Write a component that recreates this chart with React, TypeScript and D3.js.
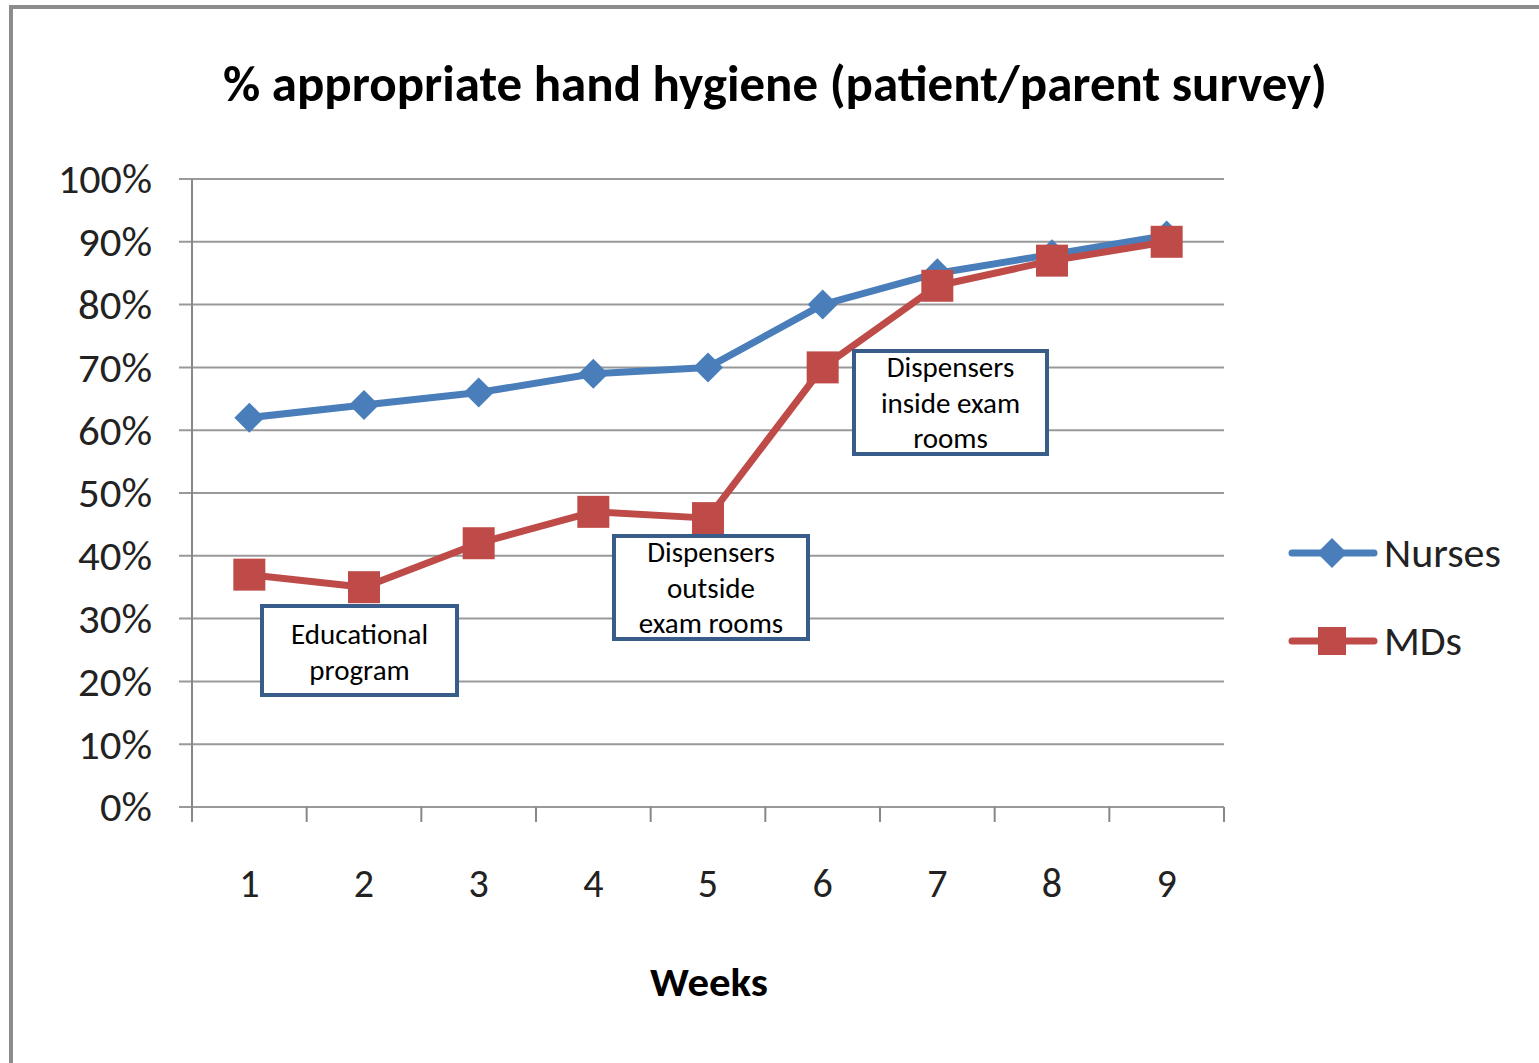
import { useEffect } from 'react'
import * as d3 from 'd3'

const weeks = ['1', '2', '3', '4', '5', '6', '7', '8', '9']
const nurses = [62, 64, 66, 69, 70, 80, 85, 88, 91]
const mds = [37, 35, 42, 47, 46, 70, 83, 87, 90]
const yTicks = [0, 10, 20, 30, 40, 50, 60, 70, 80, 90, 100]

const notes = [
  { lines: ['Educational', 'program'], x: 262, y: 606, w: 195, h: 89 },
  { lines: ['Dispensers', 'outside', 'exam rooms'], x: 614, y: 536, w: 194, h: 103 },
  { lines: ['Dispensers', 'inside exam', 'rooms'], x: 854, y: 351, w: 193, h: 103 },
]

const W = 1539
const H = 1063
const margin = { left: 192, right: 315, top: 179, bottom: 256 }
const blue = '#4a7ebb'
const red = '#be4b48'
const font = 'Calibri, Carlito, "Open Sans", sans-serif'

const App = () => {
  useEffect(() => {
    document.body.style.margin = '0'
  }, [])

  const x = d3.scaleBand().domain(weeks).range([margin.left, W - margin.right])
  const y = d3.scaleLinear().domain([0, 100]).range([H - margin.bottom, margin.top])
  const cx = (w: string) => (x(w) ?? 0) + x.bandwidth() / 2

  const line = d3.line<number>()
    .x((_, i) => cx(weeks[i]))
    .y(d => y(d))

  const diamond = (px: number, py: number, r: number) =>
    `M${px},${py - r}L${px + r},${py}L${px},${py + r}L${px - r},${py}Z`

  const x0 = margin.left
  const x1 = W - margin.right
  const bottom = y(0)

  return (
    <svg width={W} height={H} style={{ display: 'block', background: '#fff' }}>
      <rect x={11} y={7} width={W + 20} height={H + 20} fill="#fff" stroke="#8c8c8c" strokeWidth={4} />

      <text x={775} y={101} textAnchor="middle" fontFamily={font} fontWeight="bold" fontSize={50}
        textLength={1104} lengthAdjust="spacingAndGlyphs">% appropriate hand hygiene (patient/parent survey)</text>

      {yTicks.map(t => (
        <g key={t}>
          <line x1={x0 - 13} x2={x1} y1={y(t)} y2={y(t)} stroke="#999" strokeWidth={2} />
          <text x={152} y={y(t)} dy="0.36em" textAnchor="end" fontFamily={font} fontSize={40} fill="#222"
            textLength={t === 100 ? 94 : t === 0 ? 52 : 74} lengthAdjust="spacingAndGlyphs">{t}%</text>
        </g>
      ))}

      <line x1={x0} x2={x0} y1={y(100)} y2={bottom + 15} stroke="#888" strokeWidth={2} />
      {[...weeks.map(w => x(w) ?? 0), x1].map((p, i) => (
        <line key={i} x1={p} x2={p} y1={bottom} y2={bottom + 15} stroke="#888" strokeWidth={2} />
      ))}
      {weeks.map(w => (
        <text key={w} x={cx(w)} y={897} textAnchor="middle" fontFamily={font} fontSize={40} fill="#222">{w}</text>
      ))}
      <text x={709} y={996} textAnchor="middle" fontFamily={font} fontWeight="bold" fontSize={40}
        textLength={118} lengthAdjust="spacingAndGlyphs">Weeks</text>

      <path d={line(nurses) ?? ''} fill="none" stroke={blue} strokeWidth={7} strokeLinejoin="round" />
      {nurses.map((v, i) => (
        <path key={i} d={diamond(cx(weeks[i]), y(v), 15)} fill={blue} />
      ))}
      <path d={line(mds) ?? ''} fill="none" stroke={red} strokeWidth={7} strokeLinejoin="round" />
      {mds.map((v, i) => (
        <rect key={i} x={cx(weeks[i]) - 16} y={y(v) - 16} width={32} height={32} fill={red} />
      ))}

      {notes.map((n, i) => (
        <g key={i}>
          <rect x={n.x} y={n.y} width={n.w} height={n.h} fill="#fff" stroke="#385d8a" strokeWidth={4} />
          {n.lines.map((l, j) => (
            <text key={j} x={n.x + n.w / 2} y={n.y + (n.lines.length === 2 ? 38 : 26) + j * 35.5}
              textAnchor="middle" fontFamily={font} fontSize={29} fill="#000">{l}</text>
          ))}
        </g>
      ))}

      <g>
        <line x1={1292} x2={1374} y1={553} y2={553} stroke={blue} strokeWidth={7} strokeLinecap="round" />
        <path d={diamond(1332, 553, 15)} fill={blue} />
        <text x={1384} y={553} dy="0.36em" fontFamily={font} fontSize={40} fill="#222"
          textLength={117} lengthAdjust="spacingAndGlyphs">Nurses</text>
        <line x1={1292} x2={1374} y1={641} y2={641} stroke={red} strokeWidth={7} strokeLinecap="round" />
        <rect x={1318} y={627} width={28} height={28} fill={red} />
        <text x={1384} y={641} dy="0.36em" fontFamily={font} fontSize={40} fill="#222"
          textLength={78} lengthAdjust="spacingAndGlyphs">MDs</text>
      </g>
    </svg>
  )
}

export default App
